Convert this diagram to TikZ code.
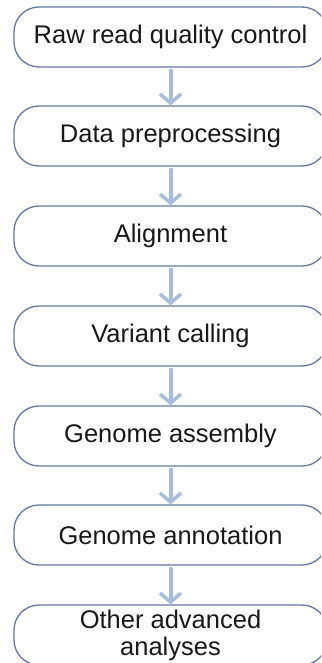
\documentclass[tikz,border=0pt]{standalone}
\usepackage{fontspec}
\setmainfont{Liberation Sans}
\usetikzlibrary{arrows.meta}
\definecolor{edgec}{HTML}{6379A0}
\definecolor{arrc}{HTML}{A9BCDA}
\begin{document}
\begin{tikzpicture}[x=1pt,y=-1pt,
 stage/.style={draw=edgec, line width=1.3pt, fill=white, rounded corners=25pt,
   minimum width=313pt, minimum height=60pt, inner sep=0pt,
   font=\fontsize{25.5}{27}\selectfont, text=black!90, align=center},
 flow/.style={draw=arrc, line width=4pt, line cap=round,
   -{Straight Barb[length=9pt,width=21pt,line width=3.5pt]}, shorten <=3pt}]
\useasboundingbox (0,0) rectangle (321,663);
\clip (0,0) rectangle (321,663);
\node[stage] (b1) at (170.5,37) {Raw read quality control};
\node[stage] (b2) at (170.5,136) {Data preprocessing};
\node[stage] (b3) at (170.5,236) {Alignment};
\node[stage] (b4) at (170.5,336) {Variant calling};
\node[stage] (b5) at (170.5,436) {Genome assembly};
\node[stage] (b6) at (170.5,535) {Genome annotation};
\node[stage] (b7) at (170.5,635) {Other advanced\\analyses};
\draw[flow] (b1.south) -- (b2.north);
\draw[flow] (b2.south) -- (b3.north);
\draw[flow] (b3.south) -- (b4.north);
\draw[flow] (b4.south) -- (b5.north);
\draw[flow] (b5.south) -- (b6.north);
\draw[flow] (b6.south) -- (b7.north);
\end{tikzpicture}
\end{document}
